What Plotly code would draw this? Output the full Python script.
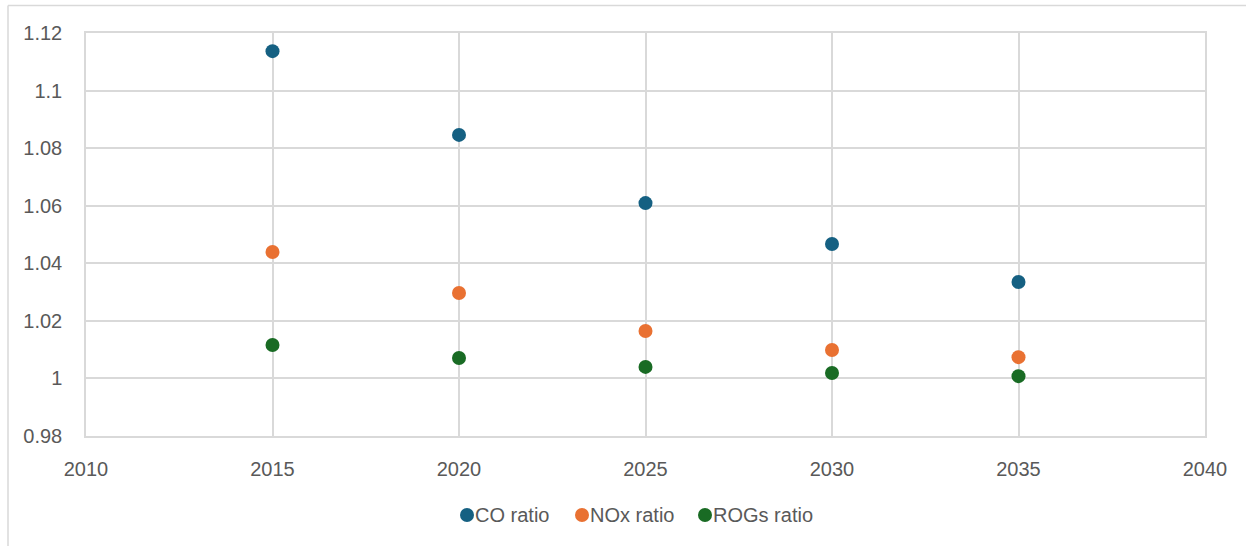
import plotly.graph_objects as go

years = [2015, 2020, 2025, 2030, 2035]
co_ratio = [1.1137, 1.0846, 1.0609, 1.0467, 1.0335]
nox_ratio = [1.0439, 1.0297, 1.0165, 1.0099, 1.0074]
rogs_ratio = [1.0116, 1.0071, 1.0040, 1.0019, 1.0008]

series_names = ["CO ratio", "NOx ratio", "ROGs ratio"]
series_values = [co_ratio, nox_ratio, rogs_ratio]
series_colors = ["#156082", "#E97132", "#196B24"]

fig = go.Figure()
for name, vals, color in zip(series_names, series_values, series_colors):
    fig.add_trace(go.Scatter(
        x=years, y=vals, mode="markers", name=name,
        marker=dict(size=14, color=color),
    ))

W, H = 1246, 546
ml, mr, mt, mb = 86, 41, 33, 110
pw, ph = W - ml - mr, H - mt - mb

def px_x(p):
    return (p - ml) / pw

def px_y(p):
    return (H - mb - p) / ph

grid = "#D9D9D9"
font_family = "Liberation Sans, Arial, sans-serif"
tick_font = dict(family=font_family, size=20, color="#595959")
legend_font = dict(family=font_family, size=20, color="#595959")

fig.update_layout(
    width=W, height=H,
    margin=dict(l=ml, r=mr, t=mt, b=mb),
    paper_bgcolor="white", plot_bgcolor="white",
    showlegend=False,
    xaxis=dict(range=[2010, 2040], dtick=5, tick0=2010, showgrid=True, gridcolor=grid,
               gridwidth=1.5, zeroline=False, showline=True, linecolor=grid, linewidth=1.5,
               mirror=True, ticks="", tickfont=tick_font, ticklabelstandoff=14),
    yaxis=dict(range=[0.98, 1.12], dtick=0.02, tick0=0.98, showgrid=True, gridcolor=grid,
               gridwidth=1.5, zeroline=False, showline=True, linecolor=grid, linewidth=1.5,
               mirror=True, ticks="", tickfont=tick_font, ticklabelstandoff=18,
               tickformat="~g"),
)

# Legend row below the plot: dot followed by label
legend_y = px_y(515)
legend_dot_x = [467, 582, 705]
for name, color, dx in zip(series_names, series_colors, legend_dot_x):
    fig.add_shape(type="circle", xref="paper", yref="paper",
                  xsizemode="pixel", ysizemode="pixel",
                  xanchor=px_x(dx), yanchor=legend_y,
                  x0=-7, x1=7, y0=-7, y1=7,
                  fillcolor=color, line=dict(width=0))
    fig.add_annotation(x=px_x(dx + 6), y=legend_y, xref="paper", yref="paper",
                       xanchor="left", yanchor="middle", showarrow=False,
                       text=name, font=legend_font)

# Outer chart frame (top and left edges)
fig.add_shape(type="line", xref="paper", yref="paper",
              x0=px_x(8), x1=px_x(1246), y0=px_y(5.5), y1=px_y(5.5),
              line=dict(color="#D9D9D9", width=1.5))
fig.add_shape(type="line", xref="paper", yref="paper",
              x0=px_x(8), x1=px_x(8), y0=px_y(5.5), y1=px_y(546),
              line=dict(color="#D9D9D9", width=1.5))

fig.write_html("out.html")
